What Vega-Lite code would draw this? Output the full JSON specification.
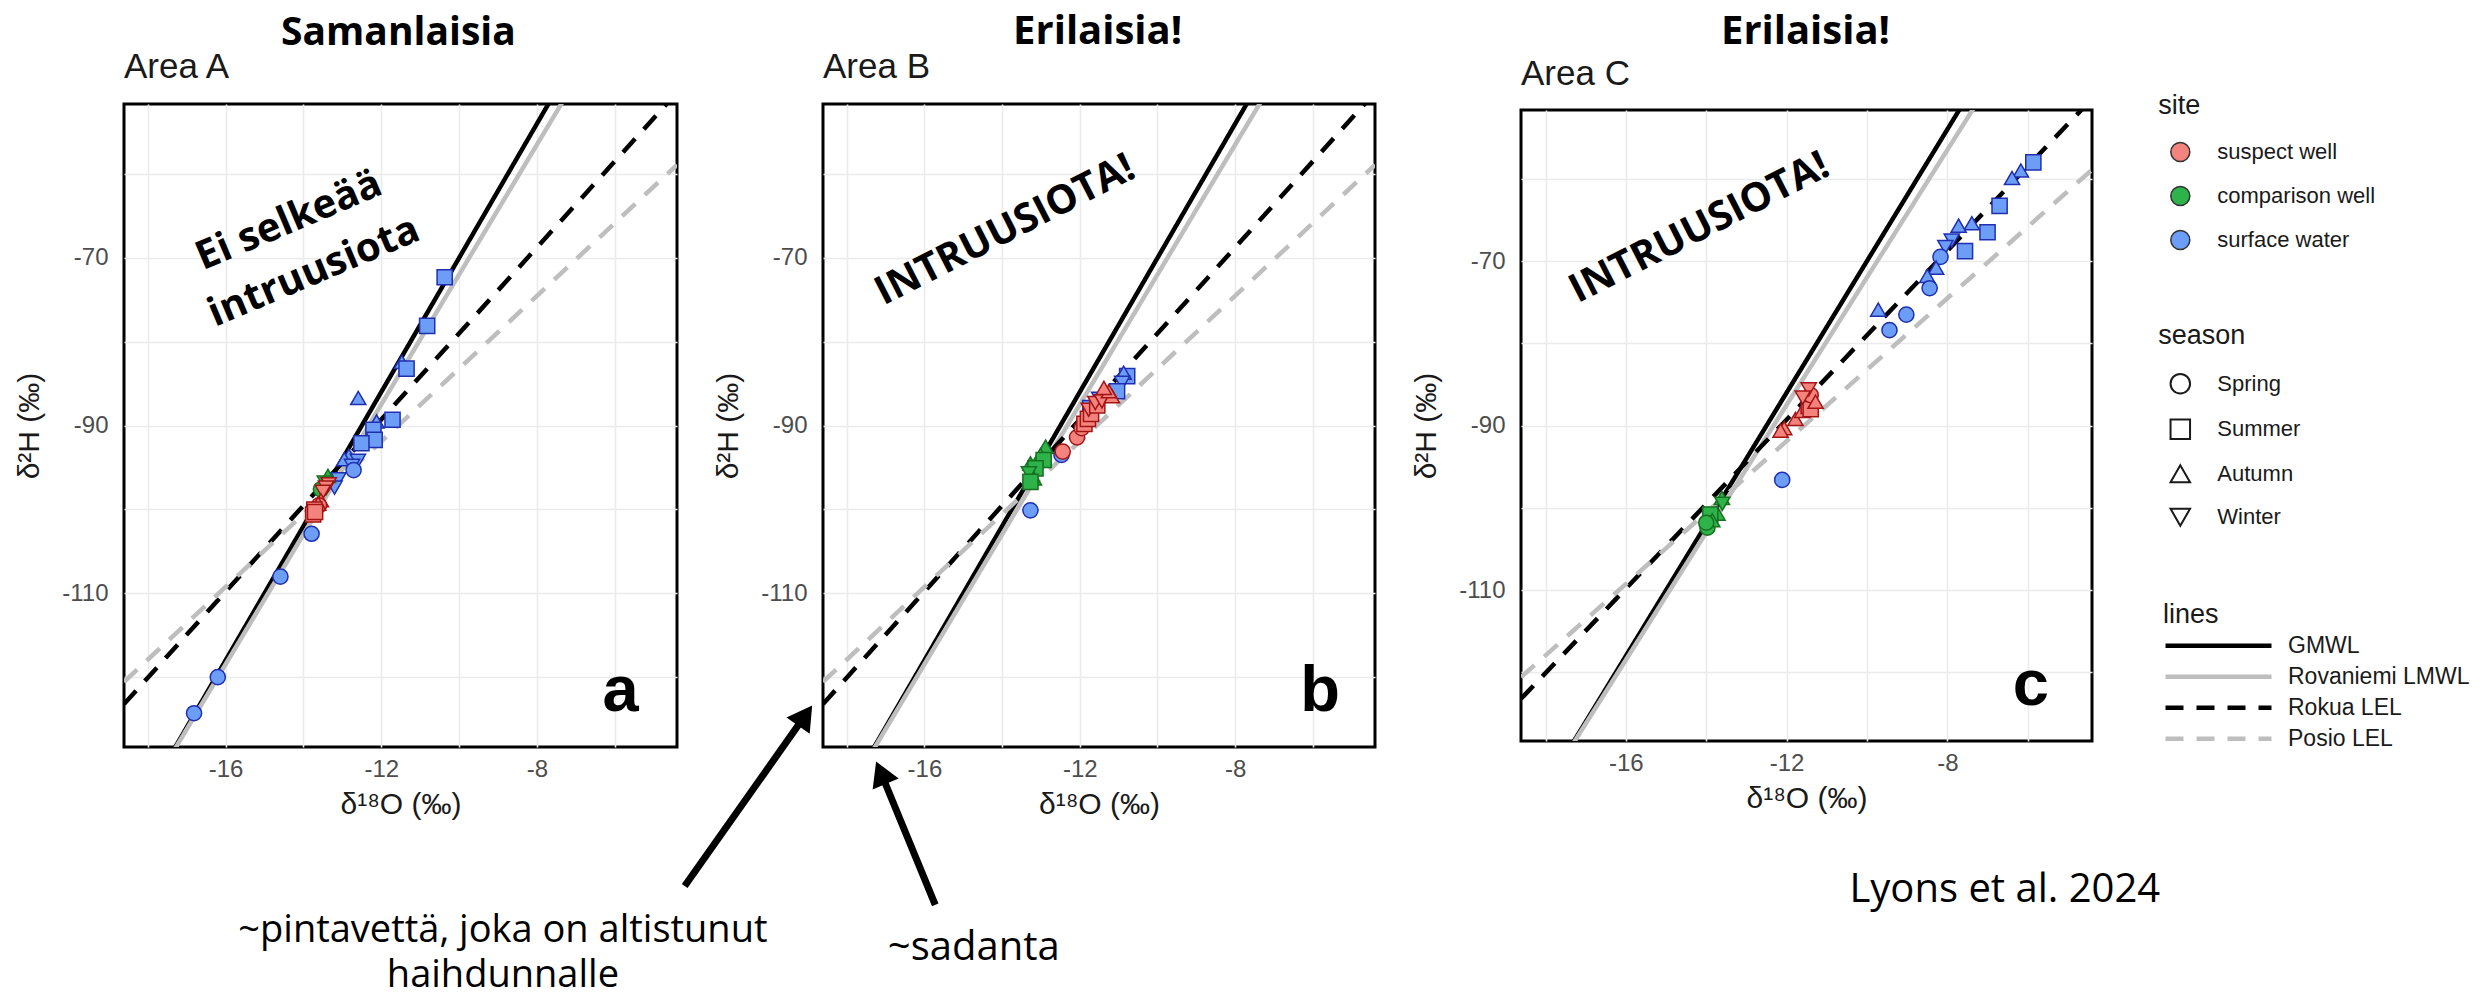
{
  "$schema": "https://vega.github.io/schema/vega-lite/v6.json",
  "background": "white",
  "padding": {"left": 13, "top": 10, "right": 5, "bottom": 0},
  "spacing": 146,
  "bounds": "flush",
  "center": true,
  "datasets": {
    "lines": [
      {"line": "GMWL", "x": -18.61, "y": -138.88},
      {"line": "GMWL", "x": -4.4, "y": -25.2},
      {"line": "Rovaniemi LMWL", "x": -18.61, "y": -138.7},
      {"line": "Rovaniemi LMWL", "x": -4.4, "y": -28.6},
      {"line": "Rokua LEL", "x": -18.61, "y": -123.2},
      {"line": "Rokua LEL", "x": -4.4, "y": -50.27},
      {"line": "Posio LEL", "x": -18.61, "y": -120.57},
      {"line": "Posio LEL", "x": -4.4, "y": -58.9}
    ],
    "points": [
      {"panel": "A", "site": "surface water", "season": "Summer", "x": -10.37, "y": -72.3},
      {"panel": "A", "site": "surface water", "season": "Summer", "x": -10.82, "y": -78.1},
      {"panel": "A", "site": "surface water", "season": "Autumn", "x": -11.47, "y": -82.4},
      {"panel": "A", "site": "surface water", "season": "Summer", "x": -11.35, "y": -83.2},
      {"panel": "A", "site": "surface water", "season": "Autumn", "x": -12.59, "y": -86.7},
      {"panel": "A", "site": "surface water", "season": "Summer", "x": -11.71, "y": -89.3},
      {"panel": "A", "site": "surface water", "season": "Autumn", "x": -12.12, "y": -89.5},
      {"panel": "A", "site": "surface water", "season": "Summer", "x": -12.2, "y": -90.5},
      {"panel": "A", "site": "surface water", "season": "Summer", "x": -12.17, "y": -91.7},
      {"panel": "A", "site": "surface water", "season": "Summer", "x": -12.51, "y": -92.1},
      {"panel": "A", "site": "surface water", "season": "Autumn", "x": -12.83, "y": -93.6},
      {"panel": "A", "site": "surface water", "season": "Autumn", "x": -12.95, "y": -94.0},
      {"panel": "A", "site": "surface water", "season": "Winter", "x": -12.6, "y": -94.2},
      {"panel": "A", "site": "surface water", "season": "Winter", "x": -12.75, "y": -94.8},
      {"panel": "A", "site": "surface water", "season": "Spring", "x": -12.71, "y": -95.3},
      {"panel": "A", "site": "surface water", "season": "Winter", "x": -13.1, "y": -96.4},
      {"panel": "A", "site": "surface water", "season": "Winter", "x": -13.2, "y": -97.4},
      {"panel": "A", "site": "surface water", "season": "Spring", "x": -13.79, "y": -102.9},
      {"panel": "A", "site": "surface water", "season": "Spring", "x": -14.59, "y": -108.0},
      {"panel": "A", "site": "surface water", "season": "Spring", "x": -16.2, "y": -120.0},
      {"panel": "A", "site": "surface water", "season": "Spring", "x": -16.81, "y": -124.3},
      {"panel": "A", "site": "comparison well", "season": "Autumn", "x": -13.37, "y": -96.0},
      {"panel": "A", "site": "comparison well", "season": "Winter", "x": -13.45, "y": -96.8},
      {"panel": "A", "site": "comparison well", "season": "Spring", "x": -13.55, "y": -97.6},
      {"panel": "A", "site": "suspect well", "season": "Winter", "x": -13.35, "y": -97.0},
      {"panel": "A", "site": "suspect well", "season": "Winter", "x": -13.42, "y": -97.4},
      {"panel": "A", "site": "suspect well", "season": "Winter", "x": -13.5, "y": -97.9},
      {"panel": "A", "site": "suspect well", "season": "Autumn", "x": -13.55, "y": -98.9},
      {"panel": "A", "site": "suspect well", "season": "Spring", "x": -13.6, "y": -99.5},
      {"panel": "A", "site": "suspect well", "season": "Autumn", "x": -13.62, "y": -99.3},
      {"panel": "A", "site": "suspect well", "season": "Summer", "x": -13.72, "y": -100.0},
      {"panel": "A", "site": "suspect well", "season": "Summer", "x": -13.75, "y": -100.6},
      {"panel": "A", "site": "suspect well", "season": "Summer", "x": -13.7, "y": -100.3},
      {"panel": "B", "site": "surface water", "season": "Summer", "x": -10.78, "y": -84.1},
      {"panel": "B", "site": "surface water", "season": "Autumn", "x": -10.87, "y": -83.7},
      {"panel": "B", "site": "surface water", "season": "Winter", "x": -10.91, "y": -84.9},
      {"panel": "B", "site": "surface water", "season": "Summer", "x": -11.04, "y": -85.9},
      {"panel": "B", "site": "surface water", "season": "Spring", "x": -12.47, "y": -93.5},
      {"panel": "B", "site": "surface water", "season": "Spring", "x": -13.27, "y": -100.1},
      {"panel": "B", "site": "surface water", "season": "Summer", "x": -11.73, "y": -87.9},
      {"panel": "B", "site": "surface water", "season": "Winter", "x": -11.5, "y": -86.8},
      {"panel": "B", "site": "comparison well", "season": "Autumn", "x": -12.88, "y": -92.5},
      {"panel": "B", "site": "comparison well", "season": "Autumn", "x": -13.01, "y": -93.5},
      {"panel": "B", "site": "comparison well", "season": "Summer", "x": -12.93, "y": -94.1},
      {"panel": "B", "site": "comparison well", "season": "Autumn", "x": -13.27, "y": -94.5},
      {"panel": "B", "site": "comparison well", "season": "Summer", "x": -13.14, "y": -95.1},
      {"panel": "B", "site": "comparison well", "season": "Winter", "x": -13.31, "y": -95.7},
      {"panel": "B", "site": "comparison well", "season": "Autumn", "x": -13.18, "y": -96.3},
      {"panel": "B", "site": "comparison well", "season": "Summer", "x": -13.27, "y": -96.7},
      {"panel": "B", "site": "suspect well", "season": "Spring", "x": -12.44, "y": -93.1},
      {"panel": "B", "site": "suspect well", "season": "Spring", "x": -12.07, "y": -91.4},
      {"panel": "B", "site": "suspect well", "season": "Spring", "x": -11.95, "y": -90.3},
      {"panel": "B", "site": "suspect well", "season": "Summer", "x": -11.88, "y": -89.8},
      {"panel": "B", "site": "suspect well", "season": "Summer", "x": -11.79, "y": -89.2},
      {"panel": "B", "site": "suspect well", "season": "Summer", "x": -11.71, "y": -88.6},
      {"panel": "B", "site": "suspect well", "season": "Winter", "x": -11.77, "y": -88.1},
      {"panel": "B", "site": "suspect well", "season": "Summer", "x": -11.55, "y": -87.6},
      {"panel": "B", "site": "suspect well", "season": "Winter", "x": -11.6, "y": -87.3},
      {"panel": "B", "site": "suspect well", "season": "Winter", "x": -11.43, "y": -87.1},
      {"panel": "B", "site": "suspect well", "season": "Autumn", "x": -11.17, "y": -86.5},
      {"panel": "B", "site": "suspect well", "season": "Autumn", "x": -11.25, "y": -85.9},
      {"panel": "B", "site": "suspect well", "season": "Autumn", "x": -11.38, "y": -85.5},
      {"panel": "C", "site": "surface water", "season": "Summer", "x": -5.86, "y": -58.0},
      {"panel": "C", "site": "surface water", "season": "Autumn", "x": -6.17, "y": -59.0},
      {"panel": "C", "site": "surface water", "season": "Autumn", "x": -6.39, "y": -59.9},
      {"panel": "C", "site": "surface water", "season": "Summer", "x": -6.7, "y": -63.3},
      {"panel": "C", "site": "surface water", "season": "Autumn", "x": -7.39, "y": -65.4},
      {"panel": "C", "site": "surface water", "season": "Autumn", "x": -7.72, "y": -65.7},
      {"panel": "C", "site": "surface water", "season": "Summer", "x": -7.0, "y": -66.5},
      {"panel": "C", "site": "surface water", "season": "Winter", "x": -7.89, "y": -67.5},
      {"panel": "C", "site": "surface water", "season": "Winter", "x": -8.05, "y": -68.3},
      {"panel": "C", "site": "surface water", "season": "Summer", "x": -7.56, "y": -68.8},
      {"panel": "C", "site": "surface water", "season": "Spring", "x": -8.17, "y": -69.5},
      {"panel": "C", "site": "surface water", "season": "Autumn", "x": -8.28, "y": -70.8},
      {"panel": "C", "site": "surface water", "season": "Autumn", "x": -8.5, "y": -71.8},
      {"panel": "C", "site": "surface water", "season": "Spring", "x": -8.44, "y": -73.3},
      {"panel": "C", "site": "surface water", "season": "Autumn", "x": -9.72, "y": -75.9},
      {"panel": "C", "site": "surface water", "season": "Spring", "x": -9.02, "y": -76.5},
      {"panel": "C", "site": "surface water", "season": "Spring", "x": -9.44, "y": -78.4},
      {"panel": "C", "site": "surface water", "season": "Spring", "x": -12.11, "y": -96.6},
      {"panel": "C", "site": "comparison well", "season": "Spring", "x": -13.97, "y": -102.4},
      {"panel": "C", "site": "comparison well", "season": "Autumn", "x": -13.61, "y": -98.8},
      {"panel": "C", "site": "comparison well", "season": "Autumn", "x": -13.72, "y": -100.7},
      {"panel": "C", "site": "comparison well", "season": "Summer", "x": -13.9, "y": -100.8},
      {"panel": "C", "site": "comparison well", "season": "Winter", "x": -13.6, "y": -99.5},
      {"panel": "C", "site": "comparison well", "season": "Autumn", "x": -13.85, "y": -101.5},
      {"panel": "C", "site": "comparison well", "season": "Spring", "x": -14.0, "y": -101.8},
      {"panel": "C", "site": "suspect well", "season": "Autumn", "x": -12.06, "y": -90.3},
      {"panel": "C", "site": "suspect well", "season": "Autumn", "x": -12.15, "y": -90.6},
      {"panel": "C", "site": "suspect well", "season": "Autumn", "x": -11.78, "y": -89.2},
      {"panel": "C", "site": "suspect well", "season": "Autumn", "x": -11.61, "y": -88.2},
      {"panel": "C", "site": "suspect well", "season": "Summer", "x": -11.45, "y": -87.6},
      {"panel": "C", "site": "suspect well", "season": "Summer", "x": -11.4, "y": -88.0},
      {"panel": "C", "site": "suspect well", "season": "Spring", "x": -11.4, "y": -86.3},
      {"panel": "C", "site": "suspect well", "season": "Winter", "x": -11.45, "y": -85.6},
      {"panel": "C", "site": "suspect well", "season": "Winter", "x": -11.6, "y": -86.6},
      {"panel": "C", "site": "suspect well", "season": "Autumn", "x": -11.28, "y": -87.1}
    ]
  },
  "hconcat": [
    {
      "width": 553,
      "height": 643,
      "encoding": {
        "x": {"field": "x", "type": "quantitative", "scale": {"domain": [-18.61, -4.4], "nice": false, "zero": false},
          "axis": {"values": [-18, -16, -14, -12, -10, -8, -6], "labelExpr": "datum.value % 4 == 0 ? toString(datum.value) : ''", "title": "δ¹⁸O (‰)", "labelPadding": 10, "titlePadding": 8}},
        "y": {"field": "y", "type": "quantitative", "scale": {"domain": [-128.33, -51.64], "nice": false, "zero": false},
          "axis": {"values": [-120, -110, -100, -90, -80, -70, -60], "labelExpr": "(datum.value + 10) % 20 == 0 ? toString(datum.value) : ''", "title": "δ²H (‰)", "labelPadding": 16, "titlePadding": 17}}
      },
      "layer": [
        {
          "data": {"name": "lines"},
          "mark": {"type": "line", "clip": true, "strokeWidth": 4.5},
          "encoding": {
            "stroke": {"field": "line", "type": "nominal", "scale": {"domain": ["GMWL", "Rovaniemi LMWL", "Rokua LEL", "Posio LEL"], "range": ["#000000", "#BEBEBE", "#000000", "#BEBEBE"]},
              "legend": {"title": "lines", "orient": "none", "legendX": 2039, "legendY": 497.7, "symbolType": "stroke", "symbolSize": 11236, "symbolStrokeWidth": 4.5, "clipHeight": 22, "rowPadding": 8, "titlePadding": 6, "labelOffset": 14, "labelFontSize": 23, "symbolOffset": 0}},
            "strokeDash": {"field": "line", "type": "nominal", "scale": {"domain": ["GMWL", "Rovaniemi LMWL", "Rokua LEL", "Posio LEL"], "range": [[1, 0], [1, 0], [18, 13], [18, 13]]},
              "legend": {"title": "lines", "orient": "none", "legendX": 2039, "legendY": 497.7, "symbolType": "stroke", "symbolSize": 11236, "symbolStrokeWidth": 4.5, "clipHeight": 22, "rowPadding": 8, "titlePadding": 6, "labelOffset": 14, "labelFontSize": 23, "symbolOffset": 0}}
          }
        },
        {
          "data": {"name": "points"},
          "transform": [{"filter": "datum.panel === 'A'"}],
          "mark": {"type": "point", "filled": false, "size": 230, "strokeWidth": 1.5, "opacity": 1},
          "encoding": {
            "fill": {"field": "site", "type": "nominal", "scale": {"domain": ["suspect well", "comparison well", "surface water"], "range": ["#F4837D", "#2DB34A", "#6D9EF7"]},
              "legend": {"title": "site", "orient": "none", "legendX": 2034.3, "legendY": -11, "symbolType": "circle", "symbolSize": 361, "rowPadding": 18, "titlePadding": 21, "labelOffset": 26, "symbolOffset": 11, "symbolStrokeColor": "#333333", "symbolStrokeWidth": 1.5}},
            "shape": {"field": "season", "type": "nominal", "scale": {"domain": ["Spring", "Summer", "Autumn", "Winter"], "range": ["circle", "square", "triangle-up", "triangle-down"]},
              "legend": {"title": "season", "orient": "none", "legendX": 2034.3, "legendY": 218.7, "symbolSize": 380, "rowPadding": 17.5, "titlePadding": 23, "labelOffset": 26, "symbolOffset": 11, "symbolFillColor": "transparent", "symbolStrokeColor": "#1a1a1a", "symbolStrokeWidth": 2}},
            "stroke": {"condition": [{"test": "datum.site === 'suspect well'", "value": "#A31515"}, {"test": "datum.site === 'comparison well'", "value": "#17701F"}], "value": "#1F2FB0"}
          }
        },
        {
          "data": {"values": [{"label": "Area A", "x": -18.61, "y": -48.58}]},
          "mark": {"type": "text", "font": "Liberation Sans", "fontSize": 35, "align": "left", "baseline": "alphabetic", "color": "#1a1a1a"},
          "encoding": {"text": {"field": "label"}}
        },
        {
          "data": {"values": [{"label": "Samanlaisia", "x": -11.56, "y": -43.2}]},
          "mark": {"type": "text", "font": "Open Sans", "fontWeight": "bold", "fontSize": 39, "align": "center", "baseline": "middle", "color": "black"},
          "encoding": {"text": {"field": "label"}}
        },
        {
          "data": {"values": [{"label": "Ei selkeää", "x": -14.37, "y": -65.58}, {"label": "intruusiota", "x": -13.73, "y": -71.68}]},
          "mark": {"type": "text", "font": "Open Sans", "fontWeight": "bold", "fontSize": 40, "align": "center", "baseline": "middle", "angle": 337, "color": "black"},
          "encoding": {"text": {"field": "label"}}
        },
        {
          "data": {"values": [{"label": "a", "x": -5.85, "y": -124.0}]},
          "mark": {"type": "text", "font": "Liberation Sans", "fontWeight": "bold", "fontSize": 65, "align": "center", "baseline": "alphabetic", "color": "black"},
          "encoding": {"text": {"field": "label"}}
        }
      ]
    },
    {
      "width": 552,
      "height": 643,
      "encoding": {
        "x": {"field": "x", "type": "quantitative", "scale": {"domain": [-18.61, -4.4], "nice": false, "zero": false},
          "axis": {"values": [-18, -16, -14, -12, -10, -8, -6], "labelExpr": "datum.value % 4 == 0 ? toString(datum.value) : ''", "title": "δ¹⁸O (‰)", "labelPadding": 10, "titlePadding": 8}},
        "y": {"field": "y", "type": "quantitative", "scale": {"domain": [-128.33, -51.64], "nice": false, "zero": false},
          "axis": {"values": [-120, -110, -100, -90, -80, -70, -60], "labelExpr": "(datum.value + 10) % 20 == 0 ? toString(datum.value) : ''", "title": "δ²H (‰)", "labelPadding": 16, "titlePadding": 17}}
      },
      "layer": [
        {
          "data": {"name": "lines"},
          "mark": {"type": "line", "clip": true, "strokeWidth": 4.5},
          "encoding": {
            "stroke": {"field": "line", "type": "nominal", "scale": {"domain": ["GMWL", "Rovaniemi LMWL", "Rokua LEL", "Posio LEL"], "range": ["#000000", "#BEBEBE", "#000000", "#BEBEBE"]},
              "legend": {"title": "lines", "orient": "none", "legendX": 2039, "legendY": 497.7, "symbolType": "stroke", "symbolSize": 11236, "symbolStrokeWidth": 4.5, "clipHeight": 22, "rowPadding": 8, "titlePadding": 6, "labelOffset": 14, "labelFontSize": 23, "symbolOffset": 0}},
            "strokeDash": {"field": "line", "type": "nominal", "scale": {"domain": ["GMWL", "Rovaniemi LMWL", "Rokua LEL", "Posio LEL"], "range": [[1, 0], [1, 0], [18, 13], [18, 13]]},
              "legend": {"title": "lines", "orient": "none", "legendX": 2039, "legendY": 497.7, "symbolType": "stroke", "symbolSize": 11236, "symbolStrokeWidth": 4.5, "clipHeight": 22, "rowPadding": 8, "titlePadding": 6, "labelOffset": 14, "labelFontSize": 23, "symbolOffset": 0}}
          }
        },
        {
          "data": {"name": "points"},
          "transform": [{"filter": "datum.panel === 'B'"}],
          "mark": {"type": "point", "filled": false, "size": 230, "strokeWidth": 1.5, "opacity": 1},
          "encoding": {
            "fill": {"field": "site", "type": "nominal", "scale": {"domain": ["suspect well", "comparison well", "surface water"], "range": ["#F4837D", "#2DB34A", "#6D9EF7"]},
              "legend": {"title": "site", "orient": "none", "legendX": 2034.3, "legendY": -11, "symbolType": "circle", "symbolSize": 361, "rowPadding": 18, "titlePadding": 21, "labelOffset": 26, "symbolOffset": 11, "symbolStrokeColor": "#333333", "symbolStrokeWidth": 1.5}},
            "shape": {"field": "season", "type": "nominal", "scale": {"domain": ["Spring", "Summer", "Autumn", "Winter"], "range": ["circle", "square", "triangle-up", "triangle-down"]},
              "legend": {"title": "season", "orient": "none", "legendX": 2034.3, "legendY": 218.7, "symbolSize": 380, "rowPadding": 17.5, "titlePadding": 23, "labelOffset": 26, "symbolOffset": 11, "symbolFillColor": "transparent", "symbolStrokeColor": "#1a1a1a", "symbolStrokeWidth": 2}},
            "stroke": {"condition": [{"test": "datum.site === 'suspect well'", "value": "#A31515"}, {"test": "datum.site === 'comparison well'", "value": "#17701F"}], "value": "#1F2FB0"}
          }
        },
        {
          "data": {"values": [{"label": "Area B", "x": -18.61, "y": -48.58}]},
          "mark": {"type": "text", "font": "Liberation Sans", "fontSize": 35, "align": "left", "baseline": "alphabetic", "color": "#1a1a1a"},
          "encoding": {"text": {"field": "label"}}
        },
        {
          "data": {"values": [{"label": "Erilaisia!", "x": -11.54, "y": -43.1}]},
          "mark": {"type": "text", "font": "Open Sans", "fontWeight": "bold", "fontSize": 40, "align": "center", "baseline": "middle", "color": "black"},
          "encoding": {"text": {"field": "label"}}
        },
        {
          "data": {"values": [{"label": "INTRUUSIOTA!", "x": -13.92, "y": -66.71}]},
          "mark": {"type": "text", "font": "Open Sans", "fontWeight": "bold", "fontSize": 40, "align": "center", "baseline": "middle", "angle": 333, "color": "black"},
          "encoding": {"text": {"field": "label"}}
        },
        {
          "data": {"values": [{"label": "b", "x": -5.81, "y": -124.0}]},
          "mark": {"type": "text", "font": "Liberation Sans", "fontWeight": "bold", "fontSize": 65, "align": "center", "baseline": "alphabetic", "color": "black"},
          "encoding": {"text": {"field": "label"}}
        },
        {
          "data": {"values": [{"label": "~pintavettä, joka on altistunut\nhaihdunnalle", "x": -26.85, "y": -150.29}]},
          "mark": {"type": "text", "font": "Open Sans", "fontSize": 38, "align": "center", "baseline": "middle", "lineBreak": "\n", "lineHeight": 45, "color": "black"},
          "encoding": {"text": {"field": "label"}}
        },
        {
          "data": {"values": [{"label": "~sadanta", "x": -16.94, "y": -152.32}]},
          "mark": {"type": "text", "font": "Open Sans", "fontSize": 40, "align": "left", "baseline": "middle", "color": "black"},
          "encoding": {"text": {"field": "label"}}
        },
        {
          "data": {"values": [{"x": -22.17, "y": -144.9, "x2": -19.18, "y2": -125.3}, {"x": -15.72, "y": -147.15, "x2": -17.04, "y2": -132.3}]},
          "mark": {"type": "rule", "strokeWidth": 7, "color": "black", "strokeCap": "butt"},
          "encoding": {"x2": {"field": "x2"}, "y2": {"field": "y2"}}
        },
        {
          "data": {"values": [{"x": -19.07, "y": -124.59}]},
          "mark": {"type": "point", "shape": "triangle-up", "filled": true, "color": "black", "size": 800, "angle": 35, "opacity": 1},
          "encoding": {}
        },
        {
          "data": {"values": [{"x": -17.12, "y": -131.41}]},
          "mark": {"type": "point", "shape": "triangle-up", "filled": true, "color": "black", "size": 800, "angle": 337, "opacity": 1},
          "encoding": {}
        }
      ]
    },
    {
      "width": 571,
      "height": 631,
      "encoding": {
        "x": {"field": "x", "type": "quantitative", "scale": {"domain": [-18.61, -4.4], "nice": false, "zero": false},
          "axis": {"values": [-18, -16, -14, -12, -10, -8, -6], "labelExpr": "datum.value % 4 == 0 ? toString(datum.value) : ''", "title": "δ¹⁸O (‰)", "labelPadding": 10, "titlePadding": 8}},
        "y": {"field": "y", "type": "quantitative", "scale": {"domain": [-128.33, -51.64], "nice": false, "zero": false},
          "axis": {"values": [-120, -110, -100, -90, -80, -70, -60], "labelExpr": "(datum.value + 10) % 20 == 0 ? toString(datum.value) : ''", "title": "δ²H (‰)", "labelPadding": 16, "titlePadding": 17}}
      },
      "layer": [
        {
          "data": {"name": "lines"},
          "mark": {"type": "line", "clip": true, "strokeWidth": 4.5},
          "encoding": {
            "stroke": {"field": "line", "type": "nominal", "scale": {"domain": ["GMWL", "Rovaniemi LMWL", "Rokua LEL", "Posio LEL"], "range": ["#000000", "#BEBEBE", "#000000", "#BEBEBE"]},
              "legend": {"title": "lines", "orient": "none", "legendX": 2039, "legendY": 497.7, "symbolType": "stroke", "symbolSize": 11236, "symbolStrokeWidth": 4.5, "clipHeight": 22, "rowPadding": 8, "titlePadding": 6, "labelOffset": 14, "labelFontSize": 23, "symbolOffset": 0}},
            "strokeDash": {"field": "line", "type": "nominal", "scale": {"domain": ["GMWL", "Rovaniemi LMWL", "Rokua LEL", "Posio LEL"], "range": [[1, 0], [1, 0], [18, 13], [18, 13]]},
              "legend": {"title": "lines", "orient": "none", "legendX": 2039, "legendY": 497.7, "symbolType": "stroke", "symbolSize": 11236, "symbolStrokeWidth": 4.5, "clipHeight": 22, "rowPadding": 8, "titlePadding": 6, "labelOffset": 14, "labelFontSize": 23, "symbolOffset": 0}}
          }
        },
        {
          "data": {"name": "points"},
          "transform": [{"filter": "datum.panel === 'C'"}],
          "mark": {"type": "point", "filled": false, "size": 230, "strokeWidth": 1.5, "opacity": 1},
          "encoding": {
            "fill": {"field": "site", "type": "nominal", "scale": {"domain": ["suspect well", "comparison well", "surface water"], "range": ["#F4837D", "#2DB34A", "#6D9EF7"]},
              "legend": {"title": "site", "orient": "none", "legendX": 2034.3, "legendY": -11, "symbolType": "circle", "symbolSize": 361, "rowPadding": 18, "titlePadding": 21, "labelOffset": 26, "symbolOffset": 11, "symbolStrokeColor": "#333333", "symbolStrokeWidth": 1.5}},
            "shape": {"field": "season", "type": "nominal", "scale": {"domain": ["Spring", "Summer", "Autumn", "Winter"], "range": ["circle", "square", "triangle-up", "triangle-down"]},
              "legend": {"title": "season", "orient": "none", "legendX": 2034.3, "legendY": 218.7, "symbolSize": 380, "rowPadding": 17.5, "titlePadding": 23, "labelOffset": 26, "symbolOffset": 11, "symbolFillColor": "transparent", "symbolStrokeColor": "#1a1a1a", "symbolStrokeWidth": 2}},
            "stroke": {"condition": [{"test": "datum.site === 'suspect well'", "value": "#A31515"}, {"test": "datum.site === 'comparison well'", "value": "#17701F"}], "value": "#1F2FB0"}
          }
        },
        {
          "data": {"values": [{"label": "Area C", "x": -18.61, "y": -48.56}]},
          "mark": {"type": "text", "font": "Liberation Sans", "fontSize": 35, "align": "left", "baseline": "alphabetic", "color": "#1a1a1a"},
          "encoding": {"text": {"field": "label"}}
        },
        {
          "data": {"values": [{"label": "Erilaisia!", "x": -11.53, "y": -42.14}]},
          "mark": {"type": "text", "font": "Open Sans", "fontWeight": "bold", "fontSize": 40, "align": "center", "baseline": "middle", "color": "black"},
          "encoding": {"text": {"field": "label"}}
        },
        {
          "data": {"values": [{"label": "INTRUUSIOTA!", "x": -14.17, "y": -66.0}]},
          "mark": {"type": "text", "font": "Open Sans", "fontWeight": "bold", "fontSize": 40, "align": "center", "baseline": "middle", "angle": 333, "color": "black"},
          "encoding": {"text": {"field": "label"}}
        },
        {
          "data": {"values": [{"label": "c", "x": -5.92, "y": -124.0}]},
          "mark": {"type": "text", "font": "Liberation Sans", "fontWeight": "bold", "fontSize": 65, "align": "center", "baseline": "alphabetic", "color": "black"},
          "encoding": {"text": {"field": "label"}}
        },
        {
          "data": {"values": [{"label": "Lyons et al. 2024", "x": -6.57, "y": -146.4}]},
          "mark": {"type": "text", "font": "Open Sans", "fontSize": 40, "align": "center", "baseline": "middle", "color": "black"},
          "encoding": {"text": {"field": "label"}}
        }
      ]
    }
  ],
  "resolve": {"scale": {"fill": "shared", "shape": "shared", "stroke": "shared", "strokeDash": "shared"}},
  "config": {
    "font": "Liberation Sans",
    "view": {"stroke": "black", "strokeWidth": 3},
    "axis": {"grid": true, "gridColor": "#EBEBEB", "gridWidth": 1.6, "domain": false, "ticks": false, "labelFont": "Liberation Sans", "labelFontSize": 24, "labelColor": "#4D4D4D", "titleFont": "Liberation Sans", "titleFontSize": 30, "titleFontWeight": "normal", "titleColor": "#1a1a1a"},
    "legend": {"titleFont": "Liberation Sans", "titleFontSize": 27, "titleFontWeight": "normal", "titleColor": "#1a1a1a", "labelFont": "Liberation Sans", "labelFontSize": 22, "labelColor": "#1a1a1a", "padding": 0, "titleLimit": 0, "labelLimit": 0}
  }
}
